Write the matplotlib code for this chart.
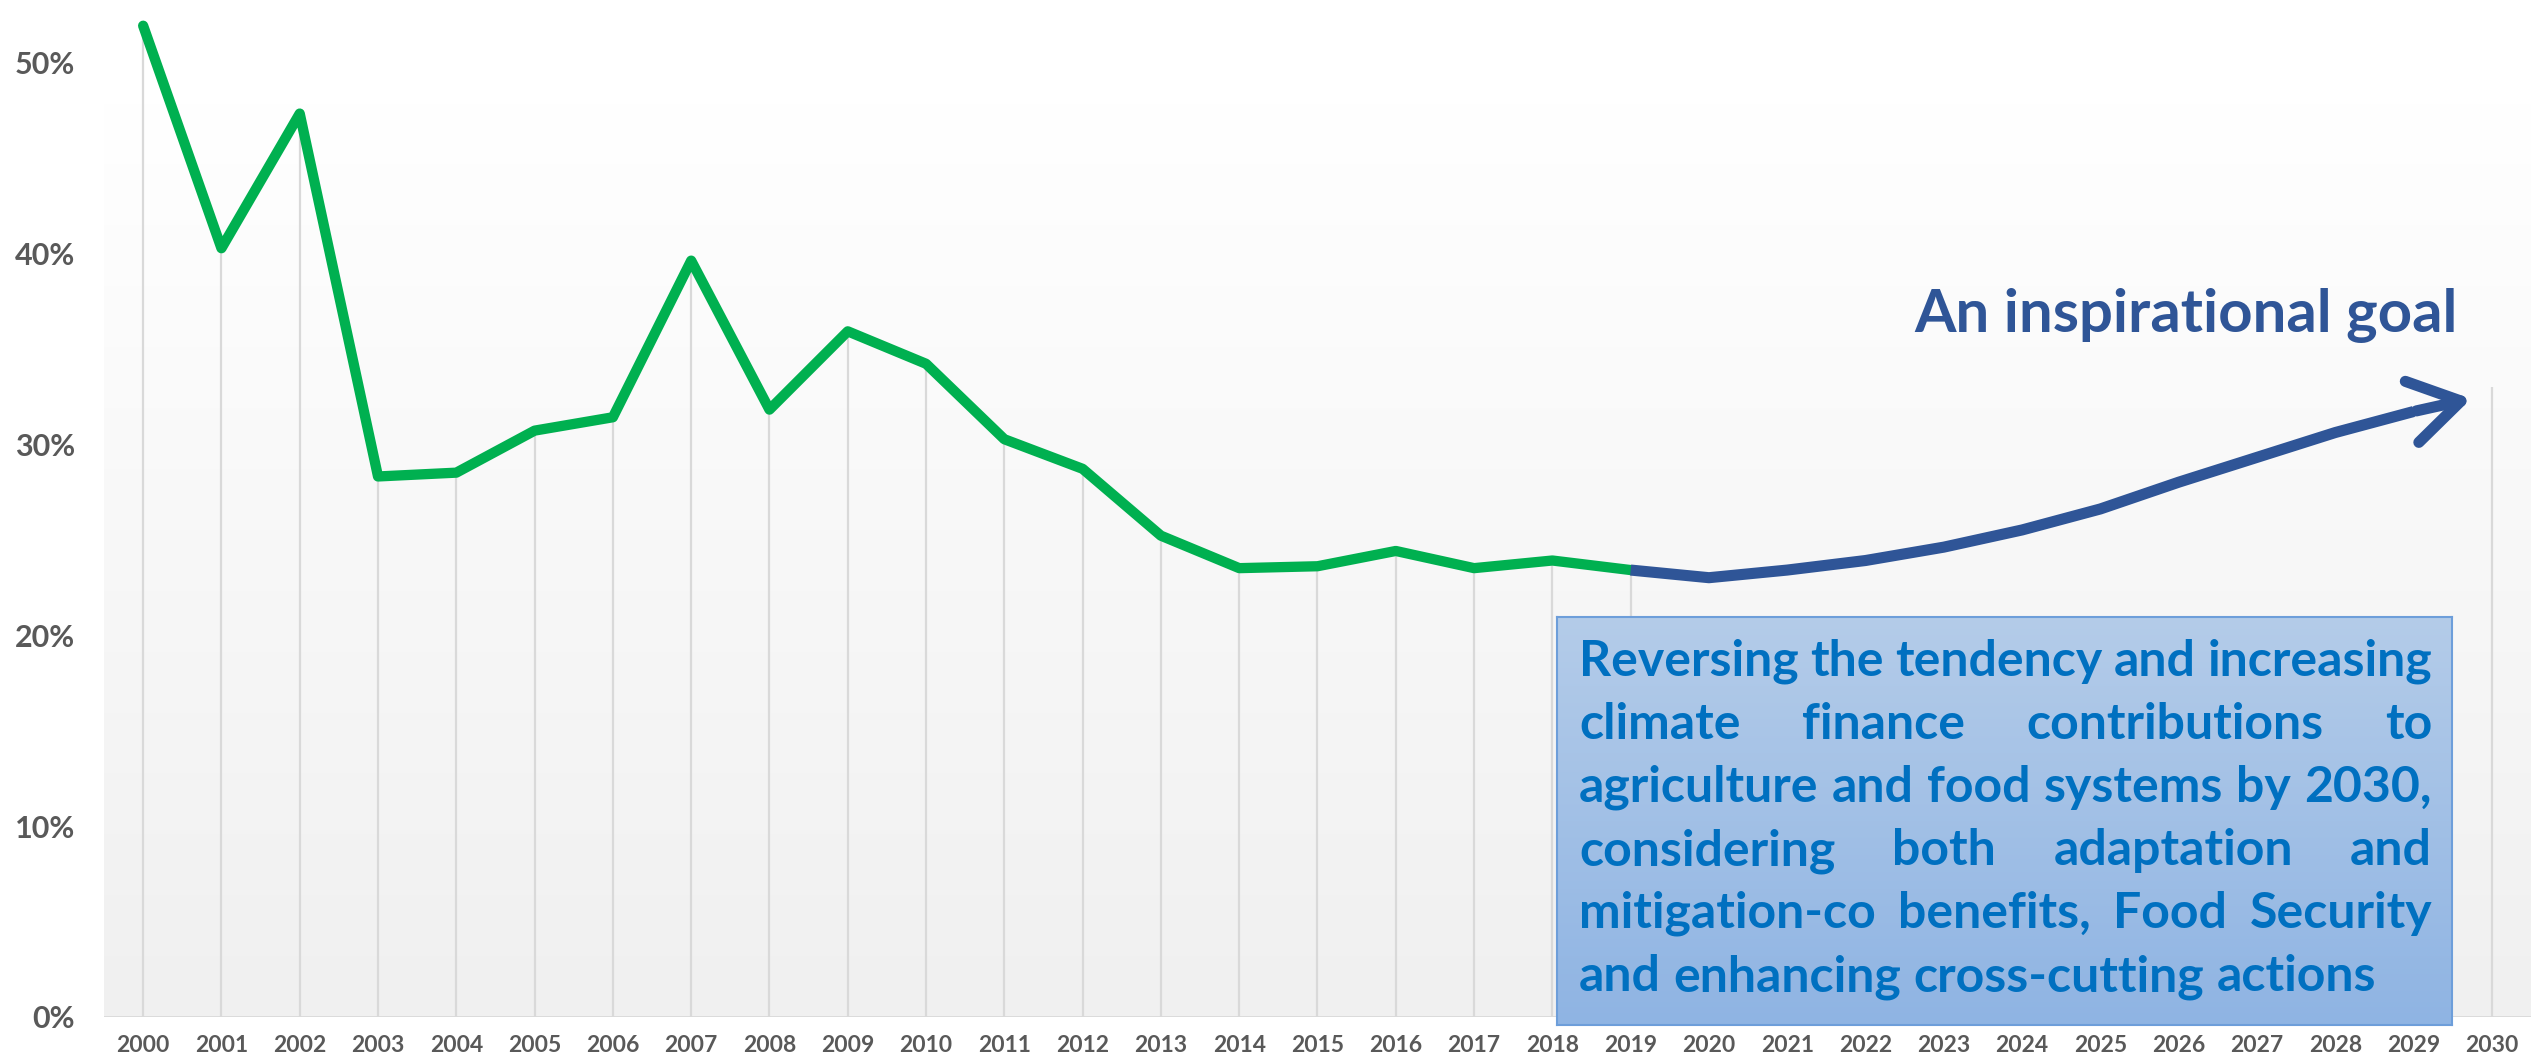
import numpy as np
import matplotlib.pyplot as plt
from matplotlib.patches import FancyArrowPatch

plt.rcParams['font.family'] = ['Lato', 'DejaVu Sans']
plt.rcParams['font.weight'] = 'bold'

# data
years = list(range(2000, 2020))
share = [51.9, 40.25, 47.3, 28.3, 28.5, 30.7, 31.4, 39.6, 31.8, 35.9,
         34.2, 30.25, 28.7, 25.2, 23.5, 23.6, 24.4, 23.5, 23.9, 23.4]
goal_years = list(range(2019, 2030))
goal_share = [23.4, 23.0, 23.4, 23.9, 24.6, 25.5, 26.6, 28.0, 29.3, 30.6, 31.7]
goal_tip = (2029.77, 32.4)
goal_2030 = 33.0
tick_years = list(range(2000, 2031))
ytick_vals = [0, 10, 20, 30, 40, 50]

title_txt = "An inspirational goal"
box_lines = ["Reversing the tendency and increasing",
             "climate finance contributions to",
             "agriculture and food systems by 2030,",
             "considering both adaptation and",
             "mitigation-co benefits, Food Security",
             "and enhancing cross-cutting actions"]

W, H = 2539, 1061
fig = plt.figure(figsize=(W/100, H/100), dpi=100)

# axes placed in pixels: 0% at y=1017, 10% = 191 px
x0, x1 = 104, 2531
ybot = 1017
ymax = 53.0
ytop = ybot - ymax*19.1
ax = fig.add_axes([x0/W, 1-ybot/H, (x1-x0)/W, (ybot-ytop)/H])
ax.set_xlim(1999.5, 2030.5)
ax.set_ylim(0, ymax)

# plot area gradient
grad = np.linspace(0, 1, 256).reshape(-1, 1)
ax.imshow(grad, extent=[1999.5, 2030.5, 0, 48], aspect='auto',
          cmap=plt.matplotlib.colors.LinearSegmentedColormap.from_list('g', ['#f0f0f0', '#ffffff']),
          origin='lower', zorder=0)

for s in ax.spines.values():
    s.set_visible(False)
ax.axhline(0, color='#d9d9d9', lw=2, zorder=1)

ax.vlines(years, 0, share, color='#d9d9d9', lw=1.6, zorder=1)
ax.vlines([2030], 0, goal_2030, color='#d9d9d9', lw=1.6, zorder=1)

ax.plot(years, share, color='#00b050', lw=7.4, solid_capstyle='round',
        solid_joinstyle='round', clip_on=False, zorder=3)
ax.plot(goal_years, goal_share, color='#2f5597', lw=8, solid_capstyle='butt',
        solid_joinstyle='round', zorder=3)
arr = FancyArrowPatch((goal_years[-1], goal_share[-1]), goal_tip,
                      arrowstyle='->,head_length=0.8,head_width=0.5',
                      mutation_scale=45, lw=8, color='#2f5597',
                      capstyle='round', joinstyle='round', zorder=3)
ax.add_patch(arr)

ax.set_xticks(tick_years)
ax.set_xticklabels([str(y) for y in tick_years], fontsize=16.5, fontweight='bold', color='#595959')
ax.set_yticks(ytick_vals)
ax.set_yticklabels([f"{v}%" for v in ytick_vals], fontsize=22, fontweight='bold', color='#595959')
ax.tick_params(axis='x', length=0, pad=13)
ax.tick_params(axis='y', length=0, pad=21)

fig.text(2186/W, 1-332/H, title_txt, ha='center', va='baseline',
         fontsize=43, fontweight='bold', color='#2f5597')

# text box with blue gradient
bx0, bx1, by0, by1 = 1557, 2452, 617, 1025
bax = fig.add_axes([bx0/W, 1-by1/H, (bx1-bx0)/W, (by1-by0)/H])
bax.imshow(grad, extent=[0, 1, 0, 1], aspect='auto', origin='lower',
           cmap=plt.matplotlib.colors.LinearSegmentedColormap.from_list('b', ['#8fb4e3', '#b4cce9']))
bax.set_xticks([])
bax.set_yticks([])
for s in bax.spines.values():
    s.set_color('#6d9eda')
    s.set_linewidth(1.5)

# justified paragraph
r = fig.canvas.get_renderer()
left_px, right_px = 1579, 2432
base0, step = 676, 63
fs = 36.5
# shrink the size if a line would not fit with normal spaces
while True:
    worst = 0
    for line in box_lines:
        words = line.split()
        tw = sum(fig.text(0, 0, w, fontsize=fs, fontweight='bold').get_window_extent(r).width
                 for w in words)
        worst = max(worst, tw + 0.22*fs*100/72*(len(words)-1))
    for t in list(fig.texts):
        t.remove()
    if worst <= right_px - left_px or fs < 20:
        break
    fs -= 0.5

fig.text(2186/W, 1-332/H, title_txt, ha='center', va='baseline',
         fontsize=43, fontweight='bold', color='#2f5597')

for i, line in enumerate(box_lines):
    words = line.split()
    y = 1 - (base0 + i*step)/H
    texts = [fig.text(0, y, w, ha='left', va='baseline', fontsize=fs,
                      fontweight='bold', color='#0070c0', zorder=5) for w in words]
    widths = [t.get_window_extent(r).width for t in texts]
    if i < len(box_lines) - 1:
        gap = (right_px - left_px - sum(widths)) / (len(words) - 1)
    else:
        gap = 0.25 * fs * 100 / 72
    x = left_px
    for t, w in zip(texts, widths):
        t.set_x(x/W)
        x += w + gap

plt.savefig("out.png", dpi=100)
